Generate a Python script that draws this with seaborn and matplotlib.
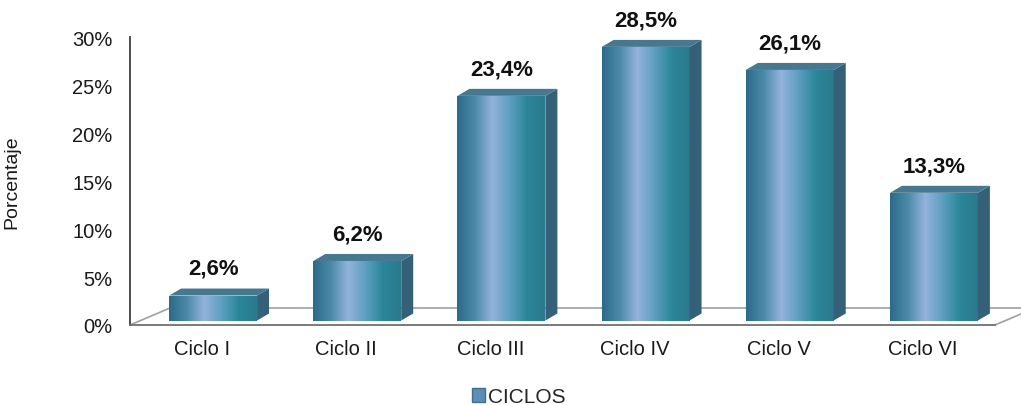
import numpy as np
import pandas as pd
import seaborn as sns
import matplotlib.pyplot as plt
from matplotlib.colors import LinearSegmentedColormap
from matplotlib.patches import Polygon, Patch

# datos del grafico
ciclos = ["Ciclo I", "Ciclo II", "Ciclo III", "Ciclo IV", "Ciclo V", "Ciclo VI"]
porcentajes = [2.6, 6.2, 23.4, 28.5, 26.1, 13.3]
yticks = [0, 5, 10, 15, 20, 25, 30]
leyenda = "CICLOS"

sns.set_style("white")
plt.rcParams["font.family"] = ["Liberation Sans", "DejaVu Sans"]

fig = plt.figure(figsize=(10.21, 4.06), dpi=100)
ax = fig.add_axes([130 / 1021, 80 / 406, 865 / 1021, 288 / 406])

df = pd.DataFrame({"Ciclo": ciclos, "Porcentaje": porcentajes})
sns.barplot(data=df, x="Ciclo", y="Porcentaje", width=0.61, color="#4f8fae",
            ax=ax, zorder=3)

ax.set_xlim(-0.5, len(ciclos) - 0.5)
ax.set_ylim(0, 30)


def px(dx, dy):
    """pixel offset -> data offset"""
    p0 = ax.transData.transform((0, 0))
    inv = ax.transData.inverted()
    a = inv.transform(p0 + np.array([dx, dy]))
    return a[0], a[1]


# desplazamiento de profundidad de las barras y del piso
shift_x, shift_y = px(11, 4.5)
dep_x, dep_y = px(12, 7)
floor_x, floor_y = px(40, 17)

cmap = LinearSegmentedColormap.from_list(
    "barra", ["#2c6b88", "#4a89a8", "#93b3dc", "#5c9fc0", "#2a8699", "#2a7a8c"])
grad = np.linspace(0, 1, 256).reshape(1, -1)

# piso
ax.plot([-0.5, -0.5 + floor_x], [0, floor_y], color="#a0a0a0", lw=1.2,
        zorder=1, clip_on=False)
ax.plot([-0.5 + floor_x, 5.5 + floor_x], [floor_y, floor_y], color="#a0a0a0",
        lw=1.2, zorder=1, clip_on=False)
ax.plot([5.5, 5.5 + floor_x], [0, floor_y], color="#a0a0a0", lw=1.2,
        zorder=1, clip_on=False)

for p, val in zip(ax.patches, porcentajes):
    x0 = p.get_x() + shift_x
    y0 = shift_y
    w = p.get_width()
    x1 = x0 + w
    y1 = val + shift_y
    p.set_x(x0)
    p.set_y(y0)
    p.set_facecolor("none")
    p.set_edgecolor("none")
    ax.imshow(grad, extent=[x0, x1, y0, y1], aspect="auto", cmap=cmap,
              zorder=3, interpolation="bicubic")
    side = Polygon([(x1, y0), (x1, y1), (x1 + dep_x, y1 + dep_y),
                    (x1 + dep_x, y0 + dep_y)], closed=True,
                   facecolor="#34607a", edgecolor="none", zorder=3)
    top = Polygon([(x0, y1), (x1, y1), (x1 + dep_x, y1 + dep_y),
                   (x0 + dep_x, y1 + dep_y)], closed=True,
                  facecolor="#46788f", edgecolor="none", zorder=3)
    ax.add_patch(side)
    ax.add_patch(top)
    ax.annotate(f"{val:.1f}%".replace(".", ","), xy=(x0 + w / 2, y1),
                xytext=(0, 12), textcoords="offset points", ha="center",
                va="bottom", fontsize=16, fontweight="bold", color="#111111")

ax.set_xlim(-0.5, len(ciclos) - 0.5)
ax.set_ylim(0, 30)

sns.despine(ax=ax, top=True, right=True)
ax.spines["left"].set_color("#404040")
ax.spines["left"].set_linewidth(1.3)
ax.spines["bottom"].set_color("#707070")
ax.spines["bottom"].set_linewidth(1.3)

ax.set_yticks(yticks)
ax.set_yticklabels([f"{t}%" for t in yticks])
ax.tick_params(axis="y", direction="inout", length=7, width=1, colors="#404040",
               labelcolor="#1a1a1a", labelsize=14.5, pad=9)

ax.set_xticks(range(len(ciclos)))
ax.set_xticklabels(ciclos)
ax.set_xticks(np.arange(-0.5, len(ciclos)), minor=True)
ax.tick_params(axis="x", which="major", length=0, labelsize=14.5,
               labelcolor="#1a1a1a", pad=10)
ax.tick_params(axis="x", which="minor", direction="out", length=6, width=1,
               colors="#404040")

ax.set_xlabel("")
ax.set_ylabel("Porcentaje", fontsize=14, color="#1a1a1a")
ax.yaxis.set_label_coords(-110 / 865, 0.5)

fig.legend(handles=[Patch(facecolor="#5b8db5", edgecolor="#3e6f92")],
           labels=[leyenda], loc="center", bbox_to_anchor=(0.508, 1 - 398 / 406),
           frameon=False, fontsize=15, handlelength=0.65, handleheight=0.65,
           handletextpad=0.15)

fig.savefig("out.png", dpi=100)
